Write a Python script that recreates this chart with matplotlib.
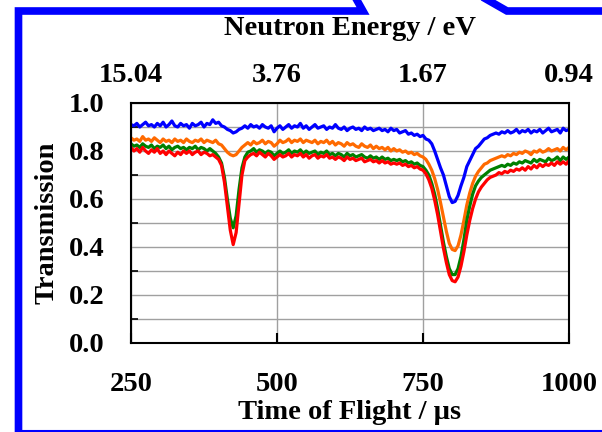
import numpy as np
import matplotlib
matplotlib.use("Agg")
import matplotlib.pyplot as plt
from matplotlib.lines import Line2D

plt.rcParams['font.family'] = ['Liberation Serif', 'DejaVu Serif']
plt.rcParams['font.weight'] = 'bold'

# time of flight grid (us), one reading every 5 us
tof = np.arange(250, 1001, 5)

blue = [0.91, 0.905, 0.915, 0.90, 0.91, 0.92, 0.905, 0.91, 0.90, 0.915,
        0.905, 0.92, 0.90, 0.91, 0.925, 0.905, 0.90, 0.915, 0.905, 0.91,
        0.895, 0.915, 0.905, 0.91, 0.92, 0.90, 0.915, 0.91, 0.93, 0.915,
        0.92, 0.905, 0.90, 0.89, 0.885, 0.875, 0.88, 0.89, 0.895, 0.905,
        0.895, 0.91, 0.90, 0.905, 0.895, 0.91, 0.90, 0.895, 0.905, 0.88,
        0.895, 0.905, 0.89, 0.90, 0.91, 0.895, 0.905, 0.90, 0.915, 0.895,
        0.905, 0.89, 0.90, 0.91, 0.895, 0.90, 0.905, 0.89, 0.90, 0.895,
        0.91, 0.895, 0.89, 0.90, 0.885, 0.895, 0.90, 0.89, 0.895, 0.885,
        0.90, 0.89, 0.895, 0.885, 0.89, 0.895, 0.885, 0.89, 0.88, 0.895,
        0.885, 0.89, 0.875, 0.88, 0.885, 0.87, 0.875, 0.865, 0.87, 0.86,
        0.865, 0.85, 0.845, 0.83, 0.80, 0.765, 0.73, 0.70, 0.655, 0.61,
        0.585, 0.59, 0.615, 0.655, 0.69, 0.735, 0.76, 0.785, 0.81, 0.82,
        0.835, 0.85, 0.855, 0.865, 0.87, 0.875, 0.87, 0.88, 0.875, 0.885,
        0.875, 0.88, 0.89, 0.875, 0.885, 0.88, 0.89, 0.875, 0.885, 0.88,
        0.89, 0.875, 0.885, 0.895, 0.88, 0.885, 0.89, 0.875, 0.895, 0.885,
        0.89]

orange = [0.855, 0.845, 0.85, 0.84, 0.86, 0.845, 0.85, 0.84, 0.855, 0.845,
          0.835, 0.85, 0.84, 0.845, 0.835, 0.85, 0.84, 0.845, 0.835, 0.85,
          0.84, 0.835, 0.845, 0.84, 0.85, 0.835, 0.845, 0.84, 0.835, 0.845,
          0.83, 0.825, 0.81, 0.795, 0.785, 0.78, 0.785, 0.80, 0.815, 0.825,
          0.835, 0.825, 0.84, 0.83, 0.835, 0.845, 0.83, 0.84, 0.835, 0.82,
          0.83, 0.845, 0.835, 0.84, 0.85, 0.835, 0.845, 0.84, 0.85, 0.835,
          0.845, 0.84, 0.835, 0.845, 0.83, 0.84, 0.835, 0.845, 0.83, 0.84,
          0.825, 0.835, 0.83, 0.82, 0.835, 0.825, 0.83, 0.82, 0.815, 0.83,
          0.82, 0.815, 0.825, 0.81, 0.82, 0.81, 0.815, 0.805, 0.815, 0.80,
          0.81, 0.80, 0.805, 0.795, 0.80, 0.79, 0.795, 0.785, 0.79, 0.78,
          0.775, 0.765, 0.745, 0.72, 0.685, 0.64, 0.585, 0.525, 0.465, 0.415,
          0.39, 0.385, 0.405, 0.45, 0.51, 0.575, 0.625, 0.665, 0.695, 0.715,
          0.73, 0.745, 0.75, 0.76, 0.765, 0.77, 0.775, 0.78, 0.775, 0.785,
          0.78, 0.79, 0.785, 0.795, 0.79, 0.80, 0.795, 0.785, 0.80, 0.795,
          0.805, 0.795, 0.80, 0.81, 0.80, 0.805, 0.81, 0.80, 0.815, 0.805,
          0.815]

green = [0.83, 0.82, 0.825, 0.815, 0.83, 0.82, 0.815, 0.825, 0.81, 0.82,
         0.815, 0.825, 0.81, 0.82, 0.805, 0.815, 0.82, 0.81, 0.815, 0.805,
         0.815, 0.81, 0.82, 0.805, 0.815, 0.81, 0.80, 0.81, 0.80, 0.79,
         0.775, 0.75, 0.69, 0.60, 0.52, 0.48, 0.53, 0.64, 0.73, 0.775,
         0.795, 0.80, 0.81, 0.795, 0.805, 0.80, 0.79, 0.80, 0.795, 0.78,
         0.79, 0.80, 0.79, 0.795, 0.805, 0.79, 0.80, 0.795, 0.805, 0.79,
         0.80, 0.79, 0.795, 0.80, 0.785, 0.795, 0.79, 0.80, 0.785, 0.79,
         0.78, 0.79, 0.785, 0.775, 0.79, 0.78, 0.785, 0.775, 0.78, 0.785,
         0.775, 0.77, 0.78, 0.77, 0.775, 0.765, 0.775, 0.765, 0.77, 0.76,
         0.765, 0.76, 0.765, 0.755, 0.76, 0.75, 0.755, 0.745, 0.75, 0.74,
         0.735, 0.72, 0.70, 0.665, 0.62, 0.56, 0.49, 0.42, 0.36, 0.31,
         0.285, 0.285, 0.31, 0.36, 0.43, 0.51, 0.57, 0.62, 0.655, 0.675,
         0.69, 0.70, 0.71, 0.72, 0.725, 0.73, 0.735, 0.74, 0.735, 0.745,
         0.74, 0.75, 0.745, 0.755, 0.75, 0.76, 0.755, 0.75, 0.765, 0.755,
         0.765, 0.76, 0.755, 0.77, 0.76, 0.765, 0.775, 0.76, 0.775, 0.765,
         0.775]

red = [0.815, 0.80, 0.81, 0.795, 0.815, 0.80, 0.79, 0.805, 0.795, 0.81,
       0.79, 0.80, 0.785, 0.80, 0.79, 0.78, 0.795, 0.785, 0.80, 0.79,
       0.80, 0.785, 0.795, 0.80, 0.785, 0.795, 0.79, 0.78, 0.785, 0.775,
       0.765, 0.74, 0.67, 0.57, 0.47, 0.41, 0.46, 0.58, 0.70, 0.76,
       0.775, 0.785, 0.79, 0.78, 0.795, 0.785, 0.775, 0.79, 0.78, 0.765,
       0.775, 0.785, 0.775, 0.78, 0.79, 0.775, 0.785, 0.78, 0.79, 0.775,
       0.785, 0.77, 0.78, 0.785, 0.77, 0.78, 0.775, 0.785, 0.77, 0.775,
       0.765, 0.775, 0.77, 0.76, 0.775, 0.765, 0.77, 0.76, 0.765, 0.77,
       0.755, 0.76, 0.765, 0.755, 0.76, 0.75, 0.76, 0.75, 0.755, 0.745,
       0.75, 0.745, 0.75, 0.74, 0.745, 0.735, 0.74, 0.73, 0.735, 0.725,
       0.72, 0.705, 0.68, 0.645, 0.595, 0.535, 0.465, 0.395, 0.335, 0.285,
       0.26, 0.255, 0.275, 0.32, 0.38, 0.45, 0.51, 0.56, 0.60, 0.63,
       0.65, 0.665, 0.68, 0.69, 0.695, 0.70, 0.71, 0.705, 0.715, 0.71,
       0.72, 0.715, 0.725, 0.72, 0.73, 0.72, 0.735, 0.725, 0.74, 0.73,
       0.745, 0.735, 0.745, 0.74, 0.75, 0.74, 0.755, 0.745, 0.755, 0.745,
       0.76]

xticks = [250, 500, 750, 1000]
energy_labels = ["15.04", "3.76", "1.67", "0.94"]

FS = 20.5
W, H = 602, 432
fig = plt.figure(figsize=(W / 100, H / 100), dpi=100)
ax = fig.add_axes([131 / W, 1 - 343 / H, (569 - 131) / W, (343 - 103) / H])

ax.plot(tof, blue, color="#0000FF", lw=2.3)
ax.plot(tof, orange, color="#FF6A00", lw=2.3)
ax.plot(tof, green, color="#008000", lw=2.3)
ax.plot(tof, red, color="#FF0000", lw=2.3)

ax.set_xlim(250, 1000)
ax.set_ylim(0, 1.0)
ax.set_xticks(xticks)
ax.set_yticks(np.arange(0, 1.01, 0.2))
ax.set_yticks(np.arange(0.1, 1.0, 0.2), minor=True)
ax.set_yticklabels(["0.0", "0.2", "0.4", "0.6", "0.8", "1.0"])
ax.grid(True, which="both", axis="y", color="#a0a0a0", lw=1.0)
ax.grid(True, which="major", axis="x", color="#a0a0a0", lw=1.0)
ax.set_axisbelow(True)
ax.tick_params(axis="y", which="major", length=0, pad=19, labelsize=FS)
ax.tick_params(axis="y", which="minor", direction="in", length=5, width=1.2)
ax.tick_params(axis="x", direction="in", length=7, width=1.5, pad=21, labelsize=FS)
for s in ax.spines.values():
    s.set_linewidth(1.5)

ax.set_xlabel("Time of Flight / µs", fontsize=FS, fontweight="bold", labelpad=2)
ax.set_ylabel("Transmission", fontsize=FS, fontweight="bold", labelpad=7)

top = ax.twiny()
top.set_xlim(ax.get_xlim())
top.set_xticks(xticks)
top.set_xticklabels(energy_labels)
top.tick_params(axis="x", length=0, pad=11, labelsize=FS)
top.set_xlabel("Neutron Energy / eV", fontsize=FS, fontweight="bold", labelpad=20)
for s in top.spines.values():
    s.set_visible(False)

# blue callout frame around the chart
def px(points):
    xs = [p[0] / W for p in points]
    ys = [1 - p[1] / H for p in points]
    return xs, ys

for pts, lw in [([(18.5, 440), (18.5, 11), (363, 11), (354, -5)], 5.5),
                ([(479, -5), (507, 11), (610, 11)], 5.5),
                ([(18, 430.5), (610, 430.5)], 1.5)]:
    xs, ys = px(pts)
    fig.add_artist(Line2D(xs, ys, color="#0000FF", lw=lw,
                          solid_joinstyle="miter", transform=fig.transFigure))

fig.savefig("out.png", dpi=100)
